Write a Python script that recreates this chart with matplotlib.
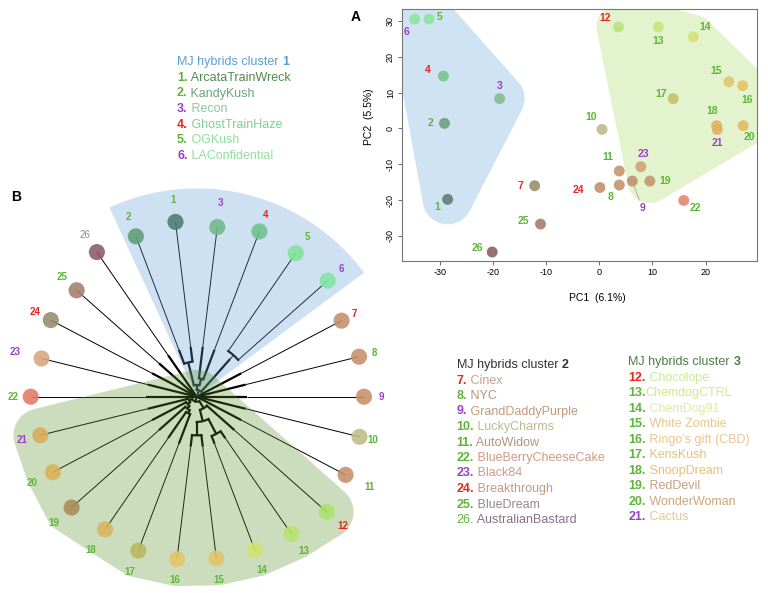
import numpy as np
import matplotlib
matplotlib.use("Agg")
import matplotlib.pyplot as plt
from matplotlib.patches import Polygon, Wedge

plt.rcParams['font.family'] = ['Liberation Sans', 'DejaVu Sans']
plt.rcParams['axes.unicode_minus'] = False

# ---------------- data ----------------
strain_ids = list(range(1, 27))
strain_names = ["ArcataTrainWreck", "KandyKush", "Recon", "GhostTrainHaze", "OGKush",
                "LAConfidential", "Cinex", "NYC", "GrandDaddyPurple", "LuckyCharms",
                "AutoWidow", "Chocolope", "ChemdogCTRL", "ChemDog91", "White Zombie",
                "Ringo\u2019s gift (CBD)", "KensKush", "SnoopDream", "RedDevil", "WonderWoman",
                "Cactus", "BlueBerryCheeseCake", "Black84", "Breakthrough", "BlueDream",
                "AustralianBastard"]
pc1 = [-28.6, -29.2, -18.8, -29.4, -32.1, -34.8, -12.2, 3.75, 6.2, 0.5,
       3.75, 3.6, 11.1, 17.7, 24.4, 27.0, 13.9, 22.1, 9.5, 27.1,
       22.2, 15.9, 7.8, 0.1, -11.1, -20.2]
pc2 = [-19.8, 1.4, 8.3, 14.6, 30.5, 30.5, -16.0, -15.8, -14.7, -0.3,
       -11.9, 28.3, 28.3, 25.5, 13.0, 11.9, 8.3, 0.75, -14.7, 0.75,
       -0.3, -20.1, -10.7, -16.5, -26.7, -34.5]
cluster1 = [1, 2, 3, 4, 5, 6]
cluster2 = [7, 8, 9, 10, 11, 22, 23, 24, 25, 26]
cluster3 = [12, 13, 14, 15, 16, 17, 18, 19, 20, 21]
red_ids = [4, 7, 12, 24]
purple_ids = [3, 6, 9, 21, 23]

# radial dendrogram: leaf order around the circle (counter-clockwise from 0 deg)
leaf_order = [9, 8, 7, 6, 5, 4, 3, 1, 2, 26, 25, 24, 23, 22, 21, 20, 19, 18, 17,
              16, 15, 14, 13, 12, 11, 10]
# root-to-leaf distance of strains 1..26 (relative)
leaf_dist = [1.048, 1.021, 1.017, 1.052, 1.038, 1.042, 0.974, 0.995, 0.996, 0.998,
             1.001, 1.034, 0.993, 0.976, 0.970, 0.974, 0.980, 0.960, 0.995, 0.967,
             0.959, 0.988, 0.951, 0.981, 0.955, 1.046]
# tree: (node distance, [children]); ints are leaves
tree = (0.0, [9, 8, 7,
              (0.04, [(0.33, [6, 5]), (0.07, [(0.11, [4, 3]), (0.21, [1, 2])])]),
              26, 25, 24, 23, 22,
              (0.03, [(0.05, [21, (0.07, [20, (0.09, [19, (0.11, [18, 17])])])]),
                      (0.08, [(0.15, [(0.23, [16, 15]), (0.25, [14, 13])]), 12])]),
              11, 10])

# ---------------- styles ----------------
colors_A = ['#5b7f79', '#6f9f80', '#84bd92', '#79c38d', '#8ee3a0', '#8ee3a0', '#9a8f6c',
            '#c39470', '#c3916d', '#beb98c', '#c59570', '#bde37c', '#c6e57c', '#d4e377',
            '#e3c56f', '#e3c465', '#c8c069', '#e0b45a', '#c7956d', '#e4bb64', '#dfb060',
            '#e48a6c', '#d2a276', '#c39070', '#a77d6b', '#8b6065']
colors_B = ['#4f7a72', '#5e9c78', '#73b788', '#6fc08a', '#7ee39a', '#80e6a0', '#c48f6a',
            '#c58e6a', '#c98f66', '#bfbb86', '#c49068', '#a9e26a', '#b9e36e', '#cfe46c',
            '#e0c468', '#e3c465', '#b8b85c', '#ddb35f', '#a98b55', '#ddb055', '#d9ab5a',
            '#e47a62', '#d8a57a', '#938c6d', '#a77c6c', '#8a5b63']
name_colors = ['#4f8a4f', '#6aa57a', '#8cc79a', '#80cf90', '#8ee09c', '#8ee09c', '#c9a08c',
               '#bb9276', '#c4997e', '#b8bd8a', '#b39478', '#c8eb98', '#cdec88', '#dcee9c',
               '#e8c690', '#e8c690', '#eabf7c', '#eabf7c', '#c6a080', '#cfa878', '#eac690',
               '#d39a82', '#cf9a8c', '#c49a80', '#9a8880', '#8a7084']
GREEN, RED, PURPLE = '#5db535', '#e8261f', '#9841c4'


def num_color(i):
    if i in red_ids:
        return RED
    if i in purple_ids:
        return PURPLE
    return GREEN


# label offsets (pixels, right/down) for panel A
offA = {1: (-10, 8), 2: (-14, 0), 3: (0, -13), 4: (-16, -6), 5: (11, -2), 6: (-8, 13),
        7: (-14, 0), 8: (-9, 12), 9: (10, 27), 10: (-11, -12), 11: (-11, -14),
        12: (-13, -9), 13: (0, 14), 14: (12, -10), 15: (-13, -11), 16: (4, 14),
        17: (-12, -5), 18: (-4, -15), 19: (15, 0), 20: (6, 11), 21: (0, 14),
        22: (12, 8), 23: (3, -13), 24: (-22, 2), 25: (-17, -3), 26: (-15, -4)}
# label gap beyond the leaf (pixels) for panel B
gapB = {1: 22, 2: 21, 3: 24, 4: 18, 5: 20, 6: 18, 7: 14, 8: 16, 9: 17, 10: 14, 11: 27,
        12: 21, 13: 21, 14: 21, 15: 22, 16: 21, 17: 23, 18: 25, 19: 24, 20: 23, 21: 19,
        22: 18, 23: 27, 24: 18, 25: 20, 26: 21}


def convex_hull(points):
    pts = sorted(set(map(tuple, np.round(points, 6))))

    def cross(o, a, b):
        return (a[0] - o[0]) * (b[1] - o[1]) - (a[1] - o[1]) * (b[0] - o[0])
    lower, upper = [], []
    for p in pts:
        while len(lower) >= 2 and cross(lower[-2], lower[-1], p) <= 0:
            lower.pop()
        lower.append(p)
    for p in reversed(pts):
        while len(upper) >= 2 and cross(upper[-2], upper[-1], p) <= 0:
            upper.pop()
        upper.append(p)
    return np.array(lower[:-1] + upper[:-1])


def buffered_hull(pts, r, n=48):
    t = np.linspace(0, 2 * np.pi, n, endpoint=False)
    allp = np.concatenate([np.c_[x + r * np.cos(t), y + r * np.sin(t)] for x, y in pts])
    return convex_hull(allp)


W, H = 768, 593
fig = plt.figure(figsize=(W / 100, H / 100), dpi=100)


def px_axes(l, t, r, b):
    return fig.add_axes([l / W, 1 - b / H, (r - l) / W, (b - t) / H])


# ---------------- Panel A ----------------
axA = px_axes(402, 9, 757, 261)
axA.set_xlim(-37.2, 29.7)
axA.set_ylim(-37.0, 33.3)
axA.set_xticks([-30, -20, -10, 0, 10, 20])
axA.set_yticks([-30, -20, -10, 0, 10, 20, 30])
axA.tick_params(labelsize=6.5, length=3, width=0.6, color='#555555', pad=2)
for lab in axA.get_yticklabels():
    lab.set_rotation(90)
    lab.set_va('center')
for s in axA.spines.values():
    s.set_color('#777777')
    s.set_linewidth(0.8)

pA = np.c_[pc1, pc2]
for members, col, buf in [(cluster1, '#cfe3f3', 25), (cluster3, '#e2f3cd', 22)]:
    sel = pA[[m - 1 for m in members]]
    px = axA.transData.transform(sel)
    hull_px = buffered_hull(px, buf)
    hull = axA.transData.inverted().transform(hull_px)
    axA.add_patch(Polygon(hull, closed=True, facecolor=col, edgecolor='none', zorder=1))

axA.scatter(pc1, pc2, s=62, c=colors_A, alpha=0.9, edgecolors='none', zorder=3)
for i in strain_ids:
    dx, dy = offA[i]
    kw = {}
    if i == 9:
        kw['arrowprops'] = dict(arrowstyle='-', color='#c8a080', lw=0.6, shrinkA=0, shrinkB=3)
    axA.annotate(str(i), (pc1[i - 1], pc2[i - 1]), xytext=(dx * 0.72, -dy * 0.72),
                 textcoords='offset points', ha='center', va='center', fontsize=7.5,
                 fontweight='bold', color=num_color(i), zorder=4, **kw)

# ---------------- Panel B ----------------
R = 168.0
cx, cy = 196.7, 396.7
axB = px_axes(0, 175, 390, 593)
axB.set_xlim(-cx / R, (390 - cx) / R)
axB.set_ylim((cy - 593) / R, (cy - 175) / R)
axB.axis('off')

leaf_angle = {leaf: k * 360.0 / len(leaf_order) for k, leaf in enumerate(leaf_order)}
RSPLIT = 0.3
THICK, THIN = 1.6, 0.7


def radial(ang, r0, r1):
    a = np.deg2rad(ang)
    if r0 < RSPLIT:
        r = min(r1, RSPLIT)
        axB.plot([r0 * np.cos(a), r * np.cos(a)], [r0 * np.sin(a), r * np.sin(a)],
                 color='black', lw=THICK, solid_capstyle='butt', zorder=1)
    if r1 > RSPLIT:
        r = max(r0, RSPLIT)
        axB.plot([r * np.cos(a), r1 * np.cos(a)], [r * np.sin(a), r1 * np.sin(a)],
                 color='black', lw=THIN, solid_capstyle='butt', zorder=1)


def draw(node):
    if isinstance(node, int):
        return leaf_angle[node], leaf_dist[node - 1]
    r, children = node
    res = [draw(c) for c in children]
    angs = [a for a, _ in res]
    if r > 0:
        t = np.deg2rad(np.linspace(min(angs), max(angs), 40))
        axB.plot(r * np.cos(t), r * np.sin(t), color='black', lw=THICK, zorder=1)
    for a, cr in res:
        radial(a, r, cr)
    return (min(angs) + max(angs)) / 2, r


draw(tree)

lx = np.array([leaf_dist[i - 1] * np.cos(np.deg2rad(leaf_angle[i])) for i in strain_ids])
ly = np.array([leaf_dist[i - 1] * np.sin(np.deg2rad(leaf_angle[i])) for i in strain_ids])

# cluster shading (drawn over the branches, semi-transparent)
c1_angs = [leaf_angle[m] for m in cluster1]
axB.add_patch(Wedge((0, 0), 1.24, min(c1_angs) - 5, max(c1_angs) + 4,
                    facecolor='#5f9ed7', alpha=0.3, edgecolor='none', zorder=2))
c3_pts = [(lx[m - 1], ly[m - 1]) for m in cluster3] + [(0.0, 0.0)]
axB.add_patch(Polygon(buffered_hull(np.array(c3_pts), 0.16), closed=True,
                      facecolor='#58912a', alpha=0.3, edgecolor='none', zorder=2))

axB.scatter(lx, ly, s=135, c=colors_B, alpha=0.88, edgecolors='none', zorder=3)
for i in strain_ids:
    a = np.deg2rad(leaf_angle[i])
    rr = leaf_dist[i - 1] + gapB[i] / R
    col = num_color(i)
    wt = 'bold'
    if i == 26:
        col, wt = '#9a8282', 'normal'
    axB.text(rr * np.cos(a), rr * np.sin(a), str(i), ha='center', va='center',
             fontsize=7, fontweight=wt, color=col, zorder=4)

# ---------------- overlay: panel letters, axis labels, legends ----------------
axO = fig.add_axes([0, 0, 1, 1])
axO.set_xlim(0, W)
axO.set_ylim(H, 0)
axO.axis('off')
axO.patch.set_alpha(0)

axO.text(356, 17, 'A', fontsize=10, fontweight='bold', ha='center', va='center')
axO.text(16, 197, 'B', fontsize=10, fontweight='bold', ha='center', va='center')
axO.text(597, 298, 'PC1  (6.1%)', fontsize=7.5, ha='center', va='center')
axO.text(369, 117, 'PC2  (5.5%)', fontsize=7.5, ha='center', va='center', rotation=90)


def legend_block(x, y0, step, title, tnum, tcol, members, regular_num=()):
    t = axO.text(x, y0, title, color=tcol, fontsize=9, ha='left', va='center')
    axO.annotate(tnum, xy=(1, 0.5), xycoords=t, ha='left', va='center', fontsize=9,
                 fontweight='bold', color=tcol)
    for k, m in enumerate(members):
        y = y0 + (k + 1) * step
        wt = 'normal' if m in regular_num else 'bold'
        n = axO.text(x, y, f'{m}.', color=num_color(m), fontsize=9, fontweight=wt,
                     ha='left', va='center')
        sep = '' if m == 13 else ' '
        axO.annotate(sep + strain_names[m - 1], xy=(1, 0.5), xycoords=n, ha='left',
                     va='center', fontsize=9, color=name_colors[m - 1])


legend_block(177, 62.3, 15.6, 'MJ hybrids cluster ', '1', '#5a9fd4', cluster1)
legend_block(456.7, 365.0, 15.5, 'MJ hybrids cluster ', '2', '#333333', cluster2,
             regular_num=(26,))
legend_block(628.3, 362.3, 15.5, 'MJ hybrids cluster ', '3', '#4e7d45', cluster3)

fig.savefig('out.png', dpi=100)
